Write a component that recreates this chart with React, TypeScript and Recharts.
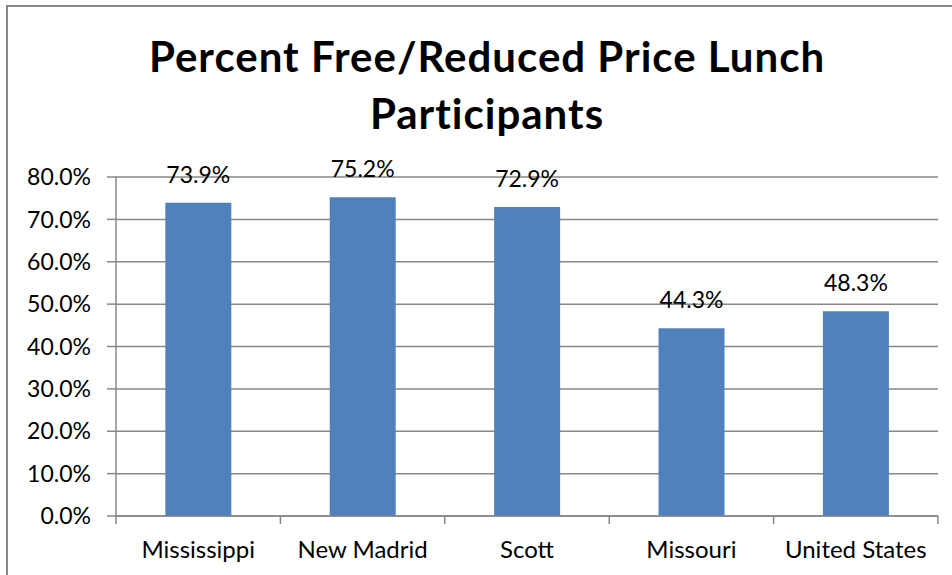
import React from "react";
import { BarChart, Bar, XAxis, YAxis, CartesianGrid, LabelList } from "recharts";

const categories = ["Mississippi", "New Madrid", "Scott", "Missouri", "United States"];
const values = [73.9, 75.2, 72.9, 44.3, 48.3];
const yTicks = [0, 10, 20, 30, 40, 50, 60, 70, 80];
const titleLines = ["Percent Free/Reduced Price Lunch", "Participants"];

const data = categories.map((name, i) => ({ name, value: values[i] }));

const FONT = "Lato, 'Open Sans', sans-serif";
const GRAY = "#878787";

const fmt = (v: number) => `${v.toFixed(1)}%`;

const XTick = (props: any) => {
  const { x, y, payload, index } = props;
  const off = payload.offset || 0;
  const last = index === categories.length - 1;
  return (
    <g>
      <line x1={x - off} x2={x - off} y1={y - 6} y2={y + 2} stroke={GRAY} strokeWidth={1.5} />
      {last && <line x1={x + off} x2={x + off} y1={y - 6} y2={y + 2} stroke={GRAY} strokeWidth={1.5} />}
      <text x={x} y={y + 36} textAnchor="middle" fontFamily={FONT} fontSize={24} fill="#000">
        {payload.value}
      </text>
    </g>
  );
};

export default function App() {
  return (
    <div style={{ position: "absolute", left: 0, top: 0, width: 952, height: 575, overflow: "hidden", background: "#fff" }}>
      <div style={{ position: "absolute", left: 6, top: 5, width: 1100, height: 700, border: `2px solid ${GRAY}`, boxSizing: "border-box" }} />
      <div style={{ position: "absolute", left: 0, top: 28, width: 974, textAlign: "center", fontFamily: FONT, fontWeight: 700, fontSize: 42, letterSpacing: 1, lineHeight: "57px", color: "#000" }}>
        {titleLines.map((t) => (
          <div key={t}>{t}</div>
        ))}
      </div>
      <div style={{ position: "absolute", left: 0, top: 0 }}>
        <BarChart width={952} height={575} data={data} margin={{ top: 177, right: 14, bottom: 0, left: 0 }} barCategoryGap="30%">
          <CartesianGrid vertical={false} stroke={GRAY} strokeWidth={1.5} />
          <XAxis dataKey="name" tickLine={false} axisLine={{ stroke: GRAY, strokeWidth: 1.5 }} height={59} tick={<XTick />} tickMargin={0} interval={0} />
          <YAxis
            width={116}
            domain={[0, 80]}
            ticks={yTicks}
            tickFormatter={fmt}
            axisLine={{ stroke: GRAY, strokeWidth: 1.5 }}
            tickLine={{ stroke: GRAY, strokeWidth: 1.5 }}
            tickSize={9}
            tickMargin={16}
            tick={{ fontFamily: FONT, fontSize: 23, fill: "#000" }}
            interval={0}
          />
          <Bar dataKey="value" fill="#4F81BD" isAnimationActive={false}>
            <LabelList dataKey="value" position="top" offset={20} formatter={(v: any) => fmt(Number(v))} style={{ fontFamily: FONT, fontSize: 23, fill: "#000" }} />
          </Bar>
        </BarChart>
      </div>
    </div>
  );
}
